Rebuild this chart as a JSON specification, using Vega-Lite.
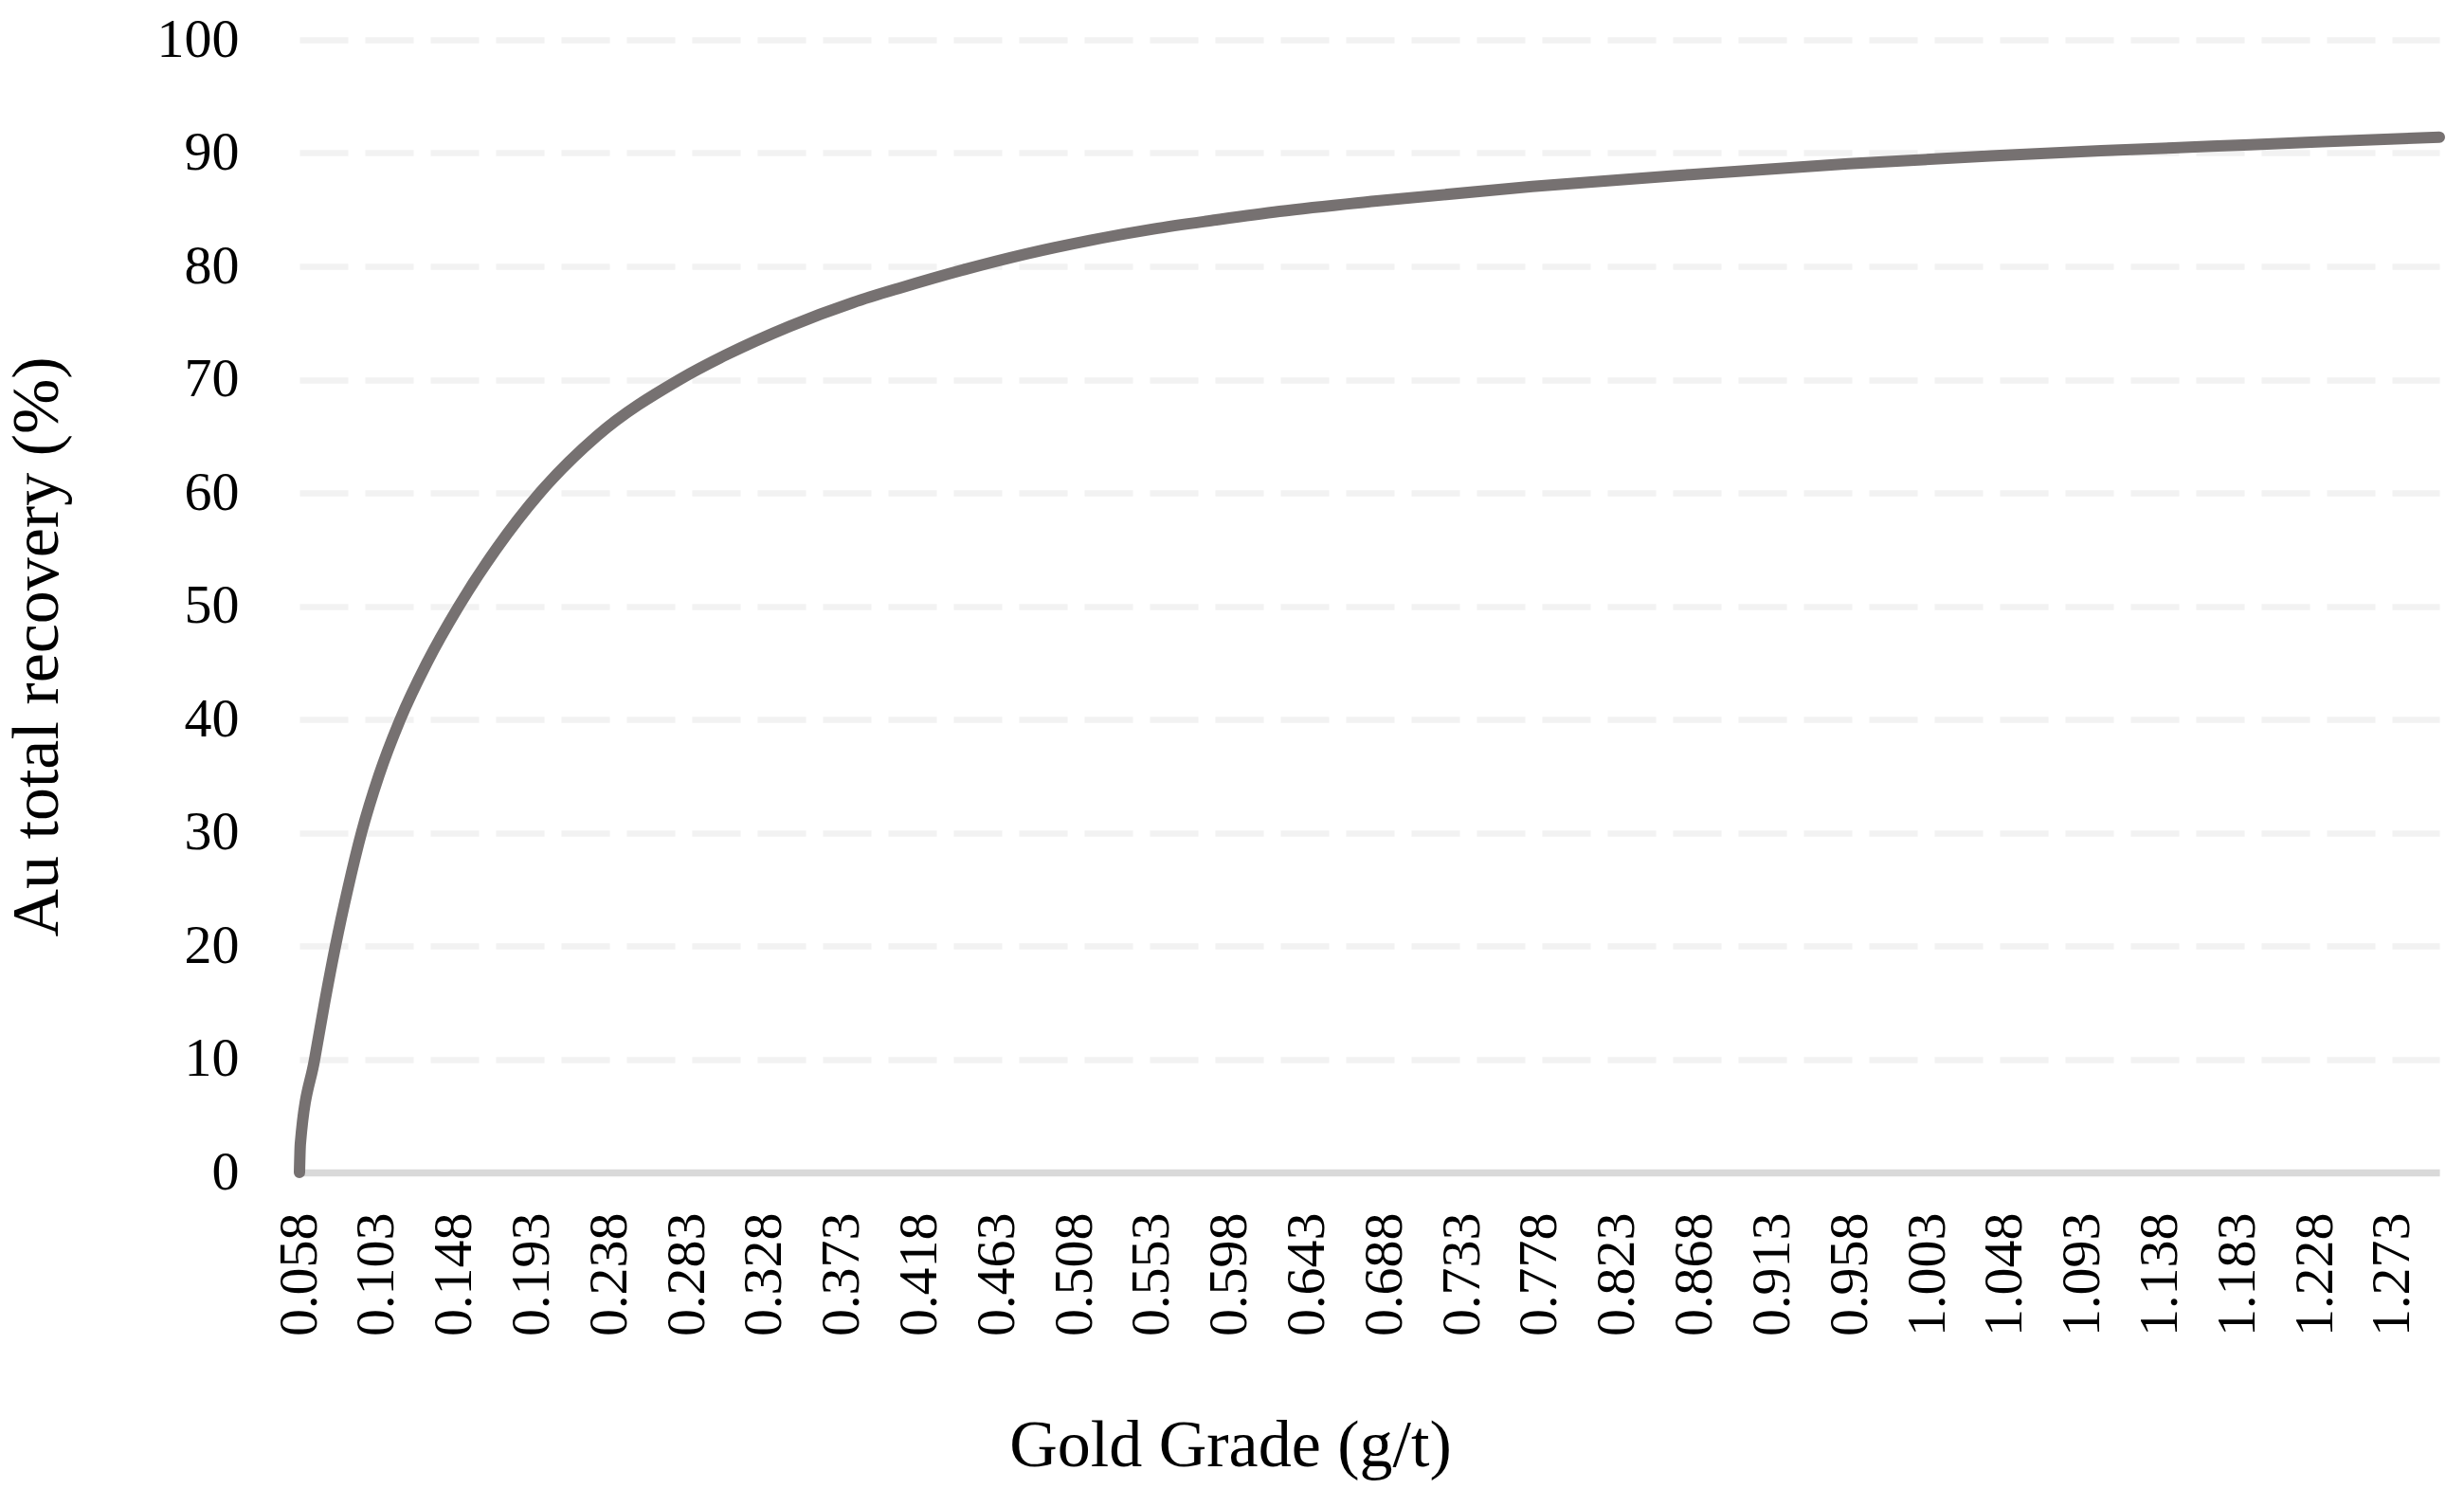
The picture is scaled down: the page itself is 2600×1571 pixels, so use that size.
{
  "$schema": "https://vega.github.io/schema/vega-lite/v6.json",
  "width": 2258,
  "height": 1195,
  "autosize": "none",
  "padding": {"left": 316, "top": 42, "right": 26, "bottom": 334},
  "background": "white",
  "config": {
    "view": {"stroke": null},
    "font": "Liberation Serif"
  },
  "data": {
    "values": [
      {"grade": 0.058, "recovery": 0},
      {"grade": 0.0585, "recovery": 2.5},
      {"grade": 0.0668, "recovery": 10},
      {"grade": 0.0726, "recovery": 15},
      {"grade": 0.0789, "recovery": 20},
      {"grade": 0.086, "recovery": 25},
      {"grade": 0.094, "recovery": 30},
      {"grade": 0.104, "recovery": 35},
      {"grade": 0.1165, "recovery": 40},
      {"grade": 0.132, "recovery": 45},
      {"grade": 0.1505, "recovery": 50},
      {"grade": 0.172, "recovery": 55},
      {"grade": 0.1975, "recovery": 60},
      {"grade": 0.2305, "recovery": 65},
      {"grade": 0.2786, "recovery": 70},
      {"grade": 0.3059, "recovery": 72.2},
      {"grade": 0.3424, "recovery": 74.7},
      {"grade": 0.3793, "recovery": 76.8},
      {"grade": 0.4068, "recovery": 78.1},
      {"grade": 0.4435, "recovery": 79.7},
      {"grade": 0.4799, "recovery": 81.1},
      {"grade": 0.5168, "recovery": 82.3},
      {"grade": 0.5536, "recovery": 83.3},
      {"grade": 0.5901, "recovery": 84.1},
      {"grade": 0.6268, "recovery": 84.85},
      {"grade": 0.6818, "recovery": 85.75},
      {"grade": 0.7735, "recovery": 87.05},
      {"grade": 0.8652, "recovery": 88.1},
      {"grade": 0.9569, "recovery": 89.05},
      {"grade": 1.0394, "recovery": 89.75},
      {"grade": 1.1036, "recovery": 90.2},
      {"grade": 1.1676, "recovery": 90.6},
      {"grade": 1.232, "recovery": 91.0},
      {"grade": 1.3, "recovery": 91.4}
    ]
  },
  "mark": {
    "type": "line",
    "color": "#767171",
    "strokeWidth": 12,
    "strokeCap": "round",
    "interpolate": "monotone",
    "clip": false
  },
  "encoding": {
    "x": {
      "field": "grade",
      "type": "quantitative",
      "scale": {"domain": [0.058, 1.3], "zero": false, "nice": false},
      "axis": {
        "title": "Gold Grade (g/t)",
        "values": [0.058, 0.103, 0.148, 0.193, 0.238, 0.283, 0.328, 0.373, 0.418, 0.463, 0.508, 0.553, 0.598, 0.643, 0.688, 0.733, 0.778, 0.823, 0.868, 0.913, 0.958, 1.003, 1.048, 1.093, 1.138, 1.183, 1.228, 1.273],
        "format": ".3f",
        "labelAngle": 270,
        "labelFontSize": 58,
        "labelColor": "#000000",
        "labelPadding": 42,
        "labelOverlap": false,
        "labelFlush": false,
        "ticks": false,
        "tickSize": 0,
        "grid": false,
        "domainColor": "#d9d9d9",
        "domainWidth": 7.5,
        "titleFontSize": 70,
        "titleFontWeight": "normal",
        "titleColor": "#000000",
        "titleX": 982,
        "titleY": 309,
        "titleAlign": "center",
        "titleBaseline": "alphabetic"
      }
    },
    "y": {
      "field": "recovery",
      "type": "quantitative",
      "scale": {"domain": [0, 100], "nice": false},
      "axis": {
        "title": "Au total recovery (%)",
        "values": [0, 10, 20, 30, 40, 50, 60, 70, 80, 90, 100],
        "labelFontSize": 58,
        "labelColor": "#000000",
        "labelPadding": 64,
        "ticks": false,
        "tickSize": 0,
        "domain": false,
        "grid": true,
        "gridColor": "#f2f2f2",
        "gridWidth": 6.5,
        "gridDash": [51, 18],
        "titleFontSize": 70,
        "titleFontWeight": "normal",
        "titleColor": "#000000",
        "titleAngle": 270,
        "titleX": -256,
        "titleY": 640,
        "titleAlign": "center",
        "titleBaseline": "alphabetic"
      }
    }
  }
}
